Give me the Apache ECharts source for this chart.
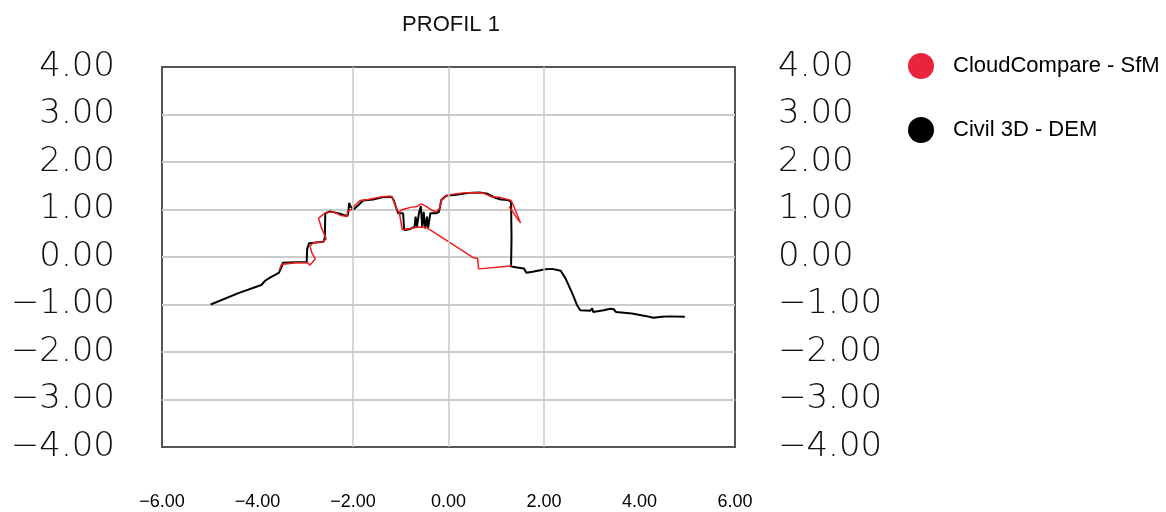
<!DOCTYPE html>
<html>
<head>
<meta charset="utf-8">
<script src="https://cdn.jsdelivr.net/npm/echarts@6/dist/echarts.min.js"></script>
<style>html,body{margin:0;padding:0;background:#fff}#c{width:1166px;height:512px}</style>
</head>
<body>
<div id="c"></div>
<script>
const titleText = 'PROFIL 1';
const seriesNames = ['CloudCompare - SfM', 'Civil 3D - DEM'];
const xTicks = [-6, -4, -2, 0, 2, 4, 6];
const yTicks = [-4, -3, -2, -1, 0, 1, 2, 3, 4];
const verticalGrid = [-2, 0, 2];

const civil3d = [
[-4.98,-1.00],[-4.4,-0.76],[-3.92,-0.59],[-3.84,-0.50],[-3.73,-0.43],[-3.62,-0.37],[-3.55,-0.33],[-3.50,-0.22],[-3.47,-0.12],[-3.2,-0.11],[-2.97,-0.11],[-2.96,0.17],[-2.92,0.29],[-2.62,0.32],[-2.59,0.40],[-2.58,0.92],[-2.48,0.96],[-2.27,0.91],[-2.12,0.86],[-2.10,0.92],[-2.08,1.14],[-2.05,1.06],[-1.99,1.0],[-1.89,1.09],[-1.79,1.19],[-1.58,1.21],[-1.37,1.26],[-1.19,1.27],[-1.15,1.2],[-1.09,1.02],[-1.05,0.92],[-0.95,0.92],[-0.93,0.57],[-0.85,0.58],[-0.78,0.60],[-0.71,0.64],[-0.69,0.85],[-0.66,0.64],[-0.62,0.92],[-0.58,1.07],[-0.55,0.64],[-0.52,0.95],[-0.49,0.60],[-0.45,0.85],[-0.43,0.60],[-0.38,0.92],[-0.26,0.92],[-0.2,0.95],[-0.15,1.2],[-0.05,1.29],[0.16,1.31],[0.44,1.35],[0.65,1.36],[0.82,1.33],[0.99,1.24],[1.10,1.21],[1.24,1.20],[1.31,1.16],[1.32,0.4],[1.31,-0.20],[1.44,-0.22],[1.58,-0.24],[1.63,-0.33],[1.76,-0.31],[2.03,-0.26],[2.17,-0.25],[2.35,-0.29],[2.45,-0.45],[2.59,-0.76],[2.69,-1.01],[2.76,-1.12],[2.97,-1.13],[3.01,-1.08],[3.03,-1.16],[3.25,-1.12],[3.39,-1.09],[3.46,-1.10],[3.51,-1.16],[3.84,-1.19],[4.12,-1.24],[4.29,-1.28],[4.47,-1.26],[4.61,-1.25],[4.95,-1.26]
];

const cloudA = [
[-3.54,-0.27],[-3.50,-0.16],[-3.46,-0.12],[-3.2,-0.12],[-2.96,-0.12],[-2.90,-0.17],[-2.79,-0.04],[-2.86,0.08],[-2.90,0.23],[-2.83,0.30],[-2.63,0.32],[-2.56,0.38],[-2.67,0.64],[-2.72,0.82],[-2.58,0.93],[-2.41,0.95],[-2.27,0.88],[-2.13,0.85],[-2.11,0.97],[-2.03,1.0],[-1.96,1.09],[-1.85,1.19],[-1.68,1.21],[-1.40,1.27],[-1.23,1.28],[-1.18,1.26],[-1.13,1.13],[-1.08,0.99],[-1.03,0.94],[-0.99,0.99],[-0.88,1.02],[-0.78,1.05],[-0.67,1.06],[-0.57,1.12],[-0.46,1.06],[-0.36,0.99],[-0.26,0.95],[-0.19,1.02],[-0.15,1.19],[-0.05,1.28],[0.02,1.31],[0.30,1.35],[0.58,1.36],[0.75,1.34],[0.89,1.27],[1.06,1.26],[1.24,1.21],[1.31,1.19],[1.38,1.04],[1.45,0.86],[1.51,0.71]
];
const cloudB = [
[-1.03,0.94],[-0.97,0.58],[-0.80,0.60],[-0.62,0.63],[-0.45,0.62],[-0.40,0.58],[0.51,-0.01],[0.61,-0.03],[0.63,-0.25],[1.31,-0.19]
];
const cloudC = [[1.27,1.06],[1.48,0.75]];

const fmt = v => (v < 0 ? '\u2212' : '') + Math.abs(v).toFixed(2);

const chart = echarts.init(document.getElementById('c'), null, {renderer: 'canvas'});
const yLabel = {
  fontFamily: 'DejaVu Sans', fontWeight: 300, fontSize: 34, color: '#111',
  formatter: fmt
};
const redLine = {color: '#f01c1c', width: 1.5};
const redItem = {color: '#e8253a'};
chart.setOption({
  animation: false,
  title: {
    text: titleText, left: 446, top: 9, textAlign: 'center',
    textStyle: {fontFamily: 'Liberation Sans', fontSize: 22, fontWeight: 'normal', color: '#111'}
  },
  legend: {
    data: seriesNames, orient: 'vertical', left: 903, top: 48,
    icon: 'circle', itemWidth: 26, itemHeight: 26, itemGap: 38,
    textStyle: {fontFamily: 'Liberation Sans', fontSize: 22, color: '#000', padding: [0, 0, 0, 14]}
  },
  grid: {left: 162, right: 431, top: 67, bottom: 65, show: true, borderColor: '#555', borderWidth: 2, backgroundColor: 'transparent'},
  xAxis: {
    type: 'value', min: xTicks[0], max: xTicks[xTicks.length - 1], interval: 2,
    axisLine: {show: false}, axisTick: {show: false}, splitLine: {show: false},
    axisLabel: {fontFamily: 'Liberation Sans', fontSize: 18, color: '#000', margin: 46, formatter: fmt}
  },
  yAxis: [
    {type: 'value', min: yTicks[0], max: yTicks[yTicks.length - 1], interval: 1,
     axisLine: {show: false}, axisTick: {show: false},
     splitLine: {show: true, showMinLine: false, showMaxLine: false, lineStyle: {color: '#cccccc', width: 2}},
     axisLabel: Object.assign({margin: 47}, yLabel)},
    {type: 'value', position: 'right', min: yTicks[0], max: yTicks[yTicks.length - 1], interval: 1,
     axisLine: {show: false}, axisTick: {show: false}, splitLine: {show: false},
     axisLabel: Object.assign({margin: 43}, yLabel)}
  ],
  series: [
    {type: 'line', name: '_grid', data: [], z: 1, silent: true,
     markLine: {silent: true, symbol: 'none', label: {show: false},
       lineStyle: {color: '#c8c8c8', width: 1.5, type: 'solid'},
       data: verticalGrid.map(v => ({xAxis: v}))}},
    {type: 'line', name: seriesNames[1], data: civil3d, showSymbol: false, z: 3,
     lineStyle: {color: '#000', width: 2}, itemStyle: {color: '#000'}},
    {type: 'line', name: seriesNames[0], data: cloudA, showSymbol: false, z: 4, lineStyle: redLine, itemStyle: redItem},
    {type: 'line', name: seriesNames[0], data: cloudB, showSymbol: false, z: 4, lineStyle: redLine, itemStyle: redItem},
    {type: 'line', name: seriesNames[0], data: cloudC, showSymbol: false, z: 4, lineStyle: redLine, itemStyle: redItem}
  ]
});
</script>
</body>
</html>
